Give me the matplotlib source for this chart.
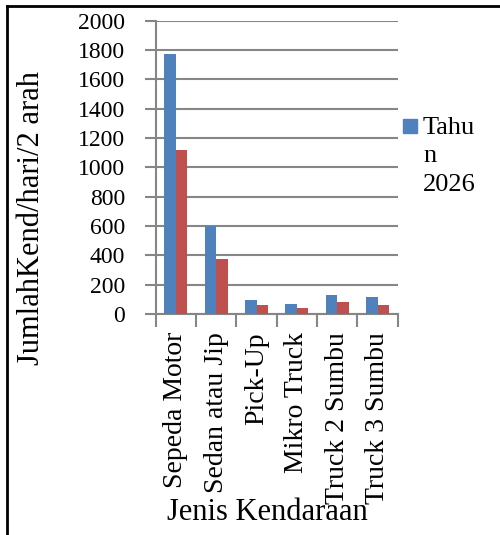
import numpy as np
import matplotlib.pyplot as plt
from matplotlib.lines import Line2D
from matplotlib.patches import Rectangle

plt.rcParams['font.family'] = ['Liberation Serif', 'DejaVu Serif']

# Data
jenis = ["Sepeda Motor", "Sedan atau Jip", "Pick-Up", "Mikro Truck",
         "Truck 2 Sumbu", "Truck 3 Sumbu"]
tahun_2026 = [1770, 600, 95, 68, 132, 116]
seri_2 = [1116, 377, 59, 41, 82, 61]

biru = "#4F81BD"
merah = "#C0504D"
abu = "#868686"

fig = plt.figure(figsize=(5, 5.35), dpi=100)
ax = fig.add_axes([0.3114, 0.4131, 0.484, 0.5482])

x = np.arange(len(jenis))
w = 0.285
ax.bar(x - w / 2, tahun_2026, w, color=biru, zorder=3)
ax.bar(x + w / 2, seri_2, w, color=merah, zorder=3)

ax.set_xlim(-0.5, len(jenis) - 0.5)
ax.set_ylim(0, 2000)
ax.set_yticks(np.arange(0, 2001, 200))
ax.yaxis.grid(True, color=abu, linewidth=1.5, zorder=0)
ax.tick_params(axis='y', direction='out', length=8, width=1.5, color=abu,
               pad=14, labelsize=17)

# category boundaries as ticks, names centred between them
ax.set_xticks(np.arange(-0.5, len(jenis), 1))
ax.set_xticklabels([])
ax.set_xticks(x, minor=True)
ax.set_xticklabels(jenis, minor=True, rotation=90, fontsize=20)
ax.tick_params(axis='x', which='major', direction='out', length=9,
               width=1.5, color=abu)
ax.tick_params(axis='x', which='minor', length=0, pad=13)

for s in ['top', 'right']:
    ax.spines[s].set_visible(False)
for s in ['left', 'bottom']:
    ax.spines[s].set_color(abu)
    ax.spines[s].set_linewidth(1.5)

fig.text(0.064, 1 - 218 / 535, "JumlahKend/hari/2 arah", rotation=90,
         ha='center', va='center', fontsize=22)
fig.text(0.535, 1 - 512 / 535, "Jenis Kendaraan", ha='center',
         va='center', fontsize=22)

# legend
fig.patches.append(Rectangle((403 / 500, 1 - 133 / 535), 14 / 500, 14 / 535,
                             transform=fig.transFigure, color=biru))
fig.text(423 / 500, 1 - 117 / 535, "Tahu\nn\n2026", ha='left', va='top',
         fontsize=19, linespacing=1.38)

# frame
fig.add_artist(Line2D([7 / 500, 1], [1 - 6 / 535] * 2, color='black',
                      linewidth=2, transform=fig.transFigure))
fig.add_artist(Line2D([7 / 500] * 2, [0, 1 - 6 / 535], color='black',
                      linewidth=2, transform=fig.transFigure))

fig.savefig("out.png", dpi=100)
